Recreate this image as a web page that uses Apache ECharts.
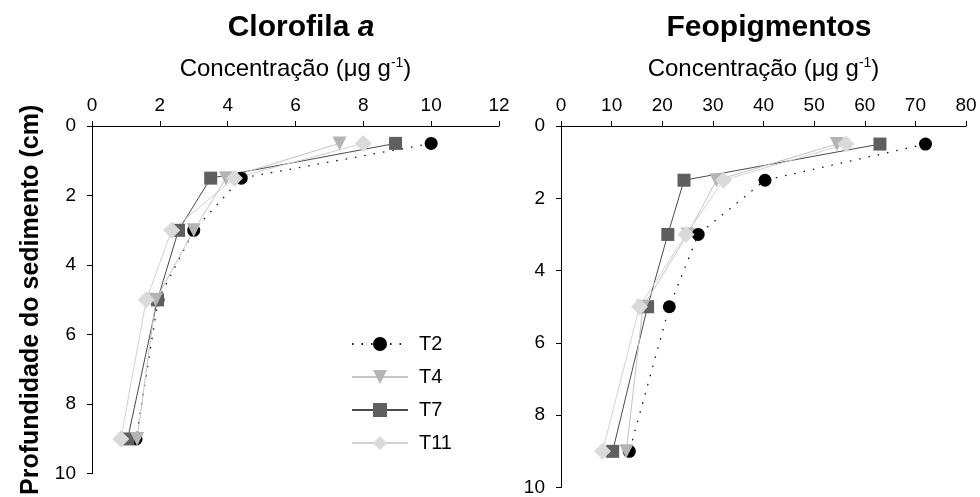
<!DOCTYPE html>
<html>
<head>
<meta charset="utf-8">
<script src="https://cdn.jsdelivr.net/npm/echarts@6/dist/echarts.min.js"></script>
<style>
  html, body { margin: 0; padding: 0; background: #fff; }
  #chart { width: 980px; height: 497px; }
</style>
</head>
<body>
<div id="chart"></div>
<script>
// Sediment depth (cm) for each sampled layer
const depths = [0.5, 1.5, 3, 5, 9];
const seriesNames = ['T2', 'T4', 'T7', 'T11'];

// Clorofila a concentration (µg g-1)
const chlT2 = [10.0, 4.4, 3.0, 1.95, 1.3];
const chlT4 = [7.3, 3.95, 3.0, 1.88, 1.33];
const chlT7 = [8.95, 3.5, 2.55, 1.93, 1.05];
const chlT11 = [8.0, 4.2, 2.35, 1.6, 0.85];

// Feopigmentos concentration (µg g-1)
const feoT2 = [72, 40.3, 27.1, 21.4, 13.5];
const feoT4 = [54.5, 30.7, 25.0, 16.2, 12.9];
const feoT7 = [63, 24.3, 21.1, 17.1, 10.2];
const feoT11 = [56.3, 32.1, 24.7, 15.5, 8.2];

const depthTicks = [0, 2, 4, 6, 8, 10];

const FONT = 'Liberation Sans, Arial, sans-serif';

// marker / line style per station
const styles = {
  T2:  { symbol: 'circle', size: 13, color: '#000000', line: '#111111', type: [1.5, 8], width: 1.3, rotate: 0 },
  T4:  { symbol: 'triangle', size: 14, color: '#b4b4b4', line: '#c4c4c4', type: 'solid', width: 1, rotate: 180 },
  T7:  { symbol: 'rect', size: 13, color: '#5f5f5f', line: '#4a4a4a', type: 'solid', width: 1, rotate: 0 },
  T11: { symbol: 'diamond', size: 17, color: '#dadada', line: '#d2d2d2', type: 'solid', width: 1, rotate: 0 }
};

function pairs(values) {
  return values.map((v, i) => [v, depths[i]]);
}

function makeSeries(name, values, gridIdx) {
  const s = styles[name];
  return {
    name: name,
    type: 'line',
    xAxisIndex: gridIdx,
    yAxisIndex: gridIdx,
    data: pairs(values),
    symbol: s.symbol,
    symbolSize: s.size,
    symbolRotate: s.rotate,
    showAllSymbol: true,
    itemStyle: { color: s.color, borderWidth: 0 },
    lineStyle: { color: s.line, width: s.width, type: s.type },
    emphasis: { disabled: true },
    animation: false
  };
}

function xAxisFor(gridIdx, max, interval) {
  return {
    gridIndex: gridIdx,
    type: 'value',
    position: 'top',
    min: 0, max: max, interval: interval,
    name: 'Concentração (μg g{sup|-1})',
    nameLocation: 'middle',
    nameGap: 44,
    nameTextStyle: {
      fontFamily: FONT, fontSize: 24, color: '#000',
      rich: { sup: { fontFamily: FONT, fontSize: 14, color: '#000', verticalAlign: 'top', padding: [0, 0, 12, 0] } }
    },
    axisLine: { show: true, lineStyle: { color: '#000', width: 1 } },
    axisTick: { show: true, inside: false, length: 5, lineStyle: { color: '#000' } },
    axisLabel: { fontFamily: FONT, fontSize: 19, color: '#000', margin: 11 },
    splitLine: { show: false }
  };
}

function yAxisFor(gridIdx, withName) {
  const ax = {
    gridIndex: gridIdx,
    type: 'value',
    inverse: true,
    min: depthTicks[0], max: depthTicks[depthTicks.length - 1], interval: 2,
    axisLine: { show: true, onZero: false, lineStyle: { color: '#000', width: 1 } },
    axisTick: { show: true, inside: false, length: 5, lineStyle: { color: '#000' } },
    axisLabel: { fontFamily: FONT, fontSize: 19, color: '#000', margin: 16 },
    splitLine: { show: false }
  };
  if (withName) {
    ax.name = 'Profundidade do sedimento (cm)';
    ax.nameLocation = 'middle';
    ax.nameGap = 48;
    ax.nameTextStyle = { fontFamily: FONT, fontSize: 25, fontWeight: 'bold', color: '#000' };
  }
  return ax;
}

const chart = echarts.init(document.getElementById('chart'), null, { renderer: 'canvas' });

chart.setOption({
  backgroundColor: '#fff',
  animation: false,
  title: [
    {
      text: 'Clorofila {i|a}',
      left: 296, top: 8, textAlign: 'center',
      textStyle: {
        fontFamily: FONT, fontSize: 30, fontWeight: 'bold', color: '#000',
        rich: { i: { fontFamily: FONT, fontSize: 30, fontWeight: 'bold', fontStyle: 'italic', color: '#000' } }
      }
    },
    {
      text: 'Feopigmentos',
      left: 764, top: 8, textAlign: 'center',
      textStyle: { fontFamily: FONT, fontSize: 30, fontWeight: 'bold', color: '#000' }
    }
  ],
  legend: {
    data: seriesNames,
    orient: 'vertical',
    left: 346, top: 329,
    itemWidth: 56, itemHeight: 17.5, itemGap: 13,
    textStyle: { fontFamily: FONT, fontSize: 20, lineHeight: 18, color: '#000', padding: [0, 0, 0, 6] },
    selectedMode: false
  },
  grid: [
    { left: 92, top: 126, width: 407, height: 366, containLabel: false },
    { left: 561, top: 126, width: 405, height: 366, containLabel: false }
  ],
  xAxis: [xAxisFor(0, 12, 2), xAxisFor(1, 80, 10)],
  yAxis: [yAxisFor(0, true), yAxisFor(1, false)],
  series: [
    makeSeries('T2', chlT2, 0),
    makeSeries('T7', chlT7, 0),
    makeSeries('T4', chlT4, 0),
    makeSeries('T11', chlT11, 0),
    makeSeries('T2', feoT2, 1),
    makeSeries('T7', feoT7, 1),
    makeSeries('T4', feoT4, 1),
    makeSeries('T11', feoT11, 1)
  ]
});
</script>
</body>
</html>
